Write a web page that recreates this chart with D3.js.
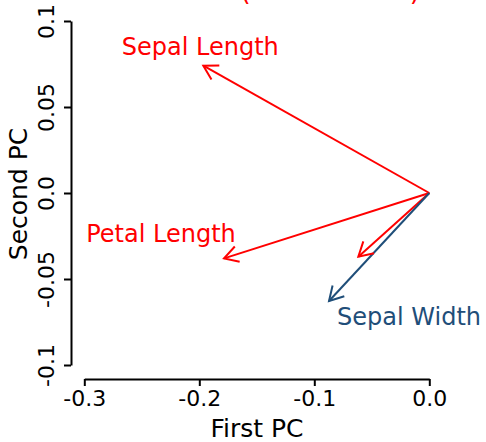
<!DOCTYPE html>
<html>
<head>
<meta charset="utf-8">
<script src="https://cdn.jsdelivr.net/npm/d3@7"></script>
<style>
  body { margin: 0; background: #fff; }
  text { font-family: "DejaVu Sans", sans-serif; }
</style>
</head>
<body>
<script>
// loadings of the first two principal components
var variables = ["Sepal Length", "Petal Length", "Petal Width", "Sepal Width"];
var pc1 = [-0.1965, -0.1785, -0.0617, -0.0872];
var pc2 = [0.0740, -0.0380, -0.0370, -0.0628];
var colors = ["#ff0000", "#ff0000", "#ff0000", "#1f4e79"];
var showLabel = [true, true, false, true];

var xTicks = [-0.3, -0.2, -0.1, 0.0];
var yTicks = [-0.1, -0.05, 0.0, 0.05, 0.1];

var w = 486, h = 442;

var svg = d3.select("body")
            .append("svg")
            .attr("width", w)
            .attr("height", h);

var x = d3.scaleLinear().domain([-0.3, 0]).range([84.3, 429.3]);
var y = d3.scaleLinear().domain([-0.1, 0.1]).range([365, 21]);

var fmt = function(d) { return d === 0 ? "0.0" : String(d); };

// axes
var xAxis = svg.append("g")
   .attr("transform", "translate(0,379)")
   .call(d3.axisBottom(x).tickValues(xTicks).tickFormat(fmt).tickSize(7).tickSizeOuter(0));
xAxis.select(".domain").attr("stroke-width", 2);
xAxis.selectAll(".tick line").attr("stroke-width", 2);
xAxis.selectAll(".tick text")
   .attr("font-size", 22)
   .attr("font-family", "DejaVu Sans")
   .attr("y", 11)
   .attr("dy", "0.71em");

var yAxis = svg.append("g")
   .attr("transform", "translate(71,0)")
   .call(d3.axisLeft(y).tickValues(yTicks).tickFormat(fmt).tickSize(7).tickSizeOuter(0));
yAxis.select(".domain").attr("stroke-width", 2);
yAxis.selectAll(".tick line").attr("stroke-width", 2);
yAxis.selectAll(".tick text")
   .attr("font-size", 22)
   .attr("font-family", "DejaVu Sans")
   .attr("x", null)
   .attr("dy", null)
   .attr("text-anchor", "middle")
   .attr("transform", "translate(-17,0) rotate(-90)");

// axis titles
svg.append("text")
   .text("First PC")
   .attr("x", 257)
   .attr("y", 437)
   .attr("text-anchor", "middle")
   .attr("font-size", 25);

svg.append("text")
   .text("Second PC")
   .attr("transform", "translate(27,194) rotate(-90)")
   .attr("text-anchor", "middle")
   .attr("font-size", 25);

// title (mostly cut off at the top, as in the original)
svg.append("text")
   .text("Iris PCA (All Variables)")
   .attr("x", 420)
   .attr("y", 0)
   .attr("text-anchor", "end")
   .attr("font-size", 26)
   .attr("fill", "#ff0000");

// arrows
var idx = d3.range(variables.length);

svg.selectAll("line.arrow")
   .data(idx)
   .enter()
   .append("line")
   .attr("class", "arrow")
   .attr("x1", x(0))
   .attr("y1", y(0))
   .attr("x2", function(i) { return x(pc1[i]); })
   .attr("y2", function(i) { return y(pc2[i]); })
   .attr("stroke", function(i) { return colors[i]; })
   .attr("stroke-width", 2);

var headLen = 16, headAng = Math.PI / 6;
svg.selectAll("path.head")
   .data(idx)
   .enter()
   .append("path")
   .attr("class", "head")
   .attr("d", function(i) {
     var tx = x(pc1[i]), ty = y(pc2[i]);
     var a = Math.atan2(ty - y(0), tx - x(0));
     var p1 = [tx - headLen * Math.cos(a - headAng), ty - headLen * Math.sin(a - headAng)];
     var p2 = [tx - headLen * Math.cos(a + headAng), ty - headLen * Math.sin(a + headAng)];
     return "M" + p1 + "L" + [tx, ty] + "L" + p2;
   })
   .attr("fill", "none")
   .attr("stroke", function(i) { return colors[i]; })
   .attr("stroke-width", 2);

// labels near arrow tips
var labelDx = [-3, -63, 0, 80];
var labelDy = [-11, -16, 0, 24];
svg.selectAll("text.lab")
   .data(idx.filter(function(i) { return showLabel[i]; }))
   .enter()
   .append("text")
   .attr("class", "lab")
   .text(function(i) { return variables[i]; })
   .attr("x", function(i) { return x(pc1[i]) + labelDx[i]; })
   .attr("y", function(i) { return y(pc2[i]) + labelDy[i]; })
   .attr("text-anchor", "middle")
   .attr("font-size", 24)
   .attr("fill", function(i) { return colors[i]; });
</script>
</body>
</html>
